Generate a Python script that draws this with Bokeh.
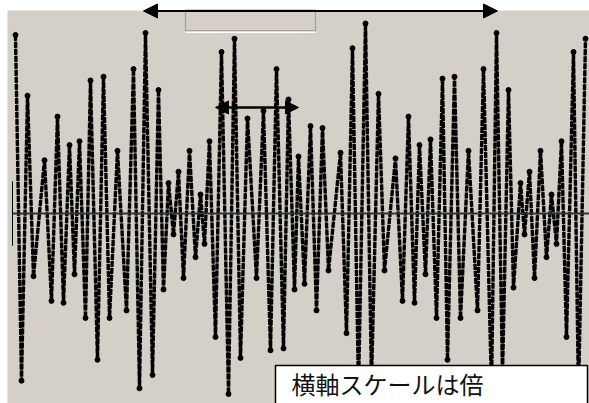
from bokeh.plotting import figure
from bokeh.models import Range1d, Arrow, NormalHead, ColumnDataSource
from bokeh.core.properties import value
from bokeh.embed import file_html
from bokeh.resources import INLINE

# extrema of the waveform (time units, amplitude)
t = [15, 21, 27, 33, 44, 51, 57, 63, 69, 74, 79, 85, 90, 97, 103, 109, 117, 126,
     133, 139, 145, 152, 158, 163, 168, 173, 178, 183, 189, 195, 200, 204, 209,
     215, 221, 228, 234, 240, 247, 256, 263, 270, 276, 283, 288, 294, 298, 304,
     310, 316, 322, 328, 340, 346, 352, 358, 365, 371, 378, 384, 395, 402, 408,
     414, 419, 425, 430, 436, 442, 447, 454, 460, 468, 477, 483, 491, 496, 502,
     508, 513, 520, 524, 529, 534, 540, 546, 551, 556, 561, 566, 573, 578, 585]
amp = [0.94, -0.88, 0.62, -0.33, 0.28, -0.46, 0.51, -0.47, 0.36, -0.32, 0.38,
       -0.55, 0.70, -0.77, 0.72, -0.55, 0.33, -0.51, 0.76, -0.92, 0.95, -0.85,
       0.65, -0.40, 0.16, -0.11, 0.22, -0.34, 0.33, -0.23, 0.10, -0.16, 0.38,
       -0.65, 0.85, -0.95, 0.92, -0.76, 0.50, -0.34, 0.54, -0.72, 0.76, -0.71,
       0.60, -0.40, 0.30, -0.37, 0.46, -0.51, 0.45, -0.30, 0.32, -0.63, 0.87,
       -0.92, 1.00, -0.88, 0.63, -0.30, 0.29, -0.46, 0.51, -0.47, 0.36, -0.32,
       0.39, -0.55, 0.71, -0.77, 0.72, -0.55, 0.33, -0.51, 0.76, -0.92, 0.95,
       -0.85, 0.65, -0.39, 0.16, -0.11, 0.22, -0.34, 0.33, -0.23, 0.10, -0.16,
       0.38, -0.65, 0.85, -0.95, 0.92]
t_start, t_end = 0, 577
label = "横軸スケールは倍"

T0 = [t[i] - 12 for i in range(len(t))]

p = figure(width=589, height=403, output_backend="svg", toolbar_location=None,
           x_range=Range1d(-12, 577), y_range=Range1d(-1.0, 1.121),
           x_axis_location=None, y_axis_location=None,
           min_border=0, min_border_left=0, min_border_right=0,
           min_border_top=0, min_border_bottom=0)
p.grid.visible = False
p.outline_line_color = None
p.background_fill_color = "white"
p.border_fill_color = "white"

# grey panel
p.quad(left=[-5], right=[577], bottom=[-1.0], top=[1.068], fill_color="#d4d0c8",
       line_color=None)

# groupbox-like outline at top
p.quad(left=[173], right=[303], bottom=[0.963], top=[1.07], fill_alpha=0,
       line_color="#a0a0a0", line_width=1.2)
p.line(x=[173, 303], y=[0.953, 0.953], line_color="white", line_width=1.2)

# waveform
src = ColumnDataSource(dict(t=T0, a=amp))
p.line("t", "a", source=src, line_color="#555555", line_width=1)
p.line("t", "a", source=src, line_color="black", line_width=3.4, line_dash="6 1")
p.scatter("t", "a", source=src, size=5, color="black")

# horizontal zero axis and short left stub
p.line(x=[t_start, t_end], y=[0, 0], line_color="#333333", line_width=2)
p.line(x=[0, 0], y=[0.17, -0.17], line_color="black", line_width=1)

# arrows
p.add_layout(Arrow(x_start=131, y_start=1.066, x_end=485, y_end=1.066,
                   line_color="black", line_width=2,
                   start=NormalHead(size=14, fill_color="black", line_color="black"),
                   end=NormalHead(size=14, fill_color="black", line_color="black")))
p.add_layout(Arrow(x_start=203, y_start=0.558, x_end=286, y_end=0.558,
                   line_color="black", line_width=2.5,
                   start=NormalHead(size=13, fill_color="black", line_color="black"),
                   end=NormalHead(size=13, fill_color="black", line_color="black")))

# label box
p.quad(left=[263], right=[575], bottom=[-1.2], top=[-0.8], fill_color="white",
       line_color="black", line_width=1.5)
p.text(x=[279], y=[-0.895], text=[label], text_font=value("Noto Sans CJK JP"),
       text_font_size="24px", text_baseline="middle", text_color="#111111")

open("out.html", "w").write(file_html(p, INLINE))
